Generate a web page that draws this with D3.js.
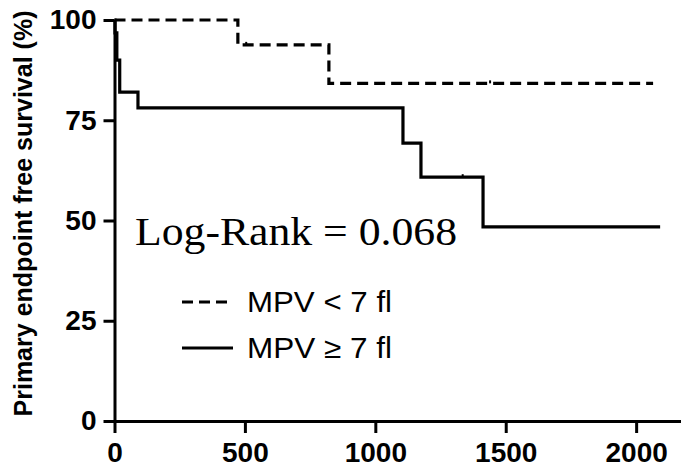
<!DOCTYPE html>
<html>
<head>
<meta charset="utf-8">
<script src="https://cdn.jsdelivr.net/npm/d3@7"></script>
<style>
  html, body { margin: 0; padding: 0; background: #fff; }
  svg { display: block; }
  .axis text { font-family: "Liberation Sans", Arial, sans-serif; font-weight: bold; font-size: 28px; fill: #000; }
  .axis path, .axis line { stroke: #000; stroke-width: 3; }
</style>
</head>
<body>
<svg id="chart" width="681" height="476"></svg>
<script>
// time (days) and survival (%)
const lowTime = [0, 473, 822, 2065];
const lowSurv = [100, 93.8, 84.2, 84.2];
const highTime = [0, 2, 9, 20, 90, 1106, 1175, 1413, 2092];
const highSurv = [100, 96.8, 90, 82, 78.1, 69.3, 60.8, 48.4, 48.4];
const lowCensor = [505, 1440];
const highCensor = [1335];
const xTicks = [0, 500, 1000, 1500, 2000];
const yTicks = [0, 25, 50, 75, 100];
const legendLabels = ["MPV < 7 fl", "MPV \u2265 7 fl"];
const yTitle = "Primary endpoint free survival (%)";
const noteText = "Log-Rank = 0.068";

const svg = d3.select("#chart");

let x = d3.scaleLinear().domain([0, 2172]).range([114.5, 681]);
let y = d3.scaleLinear().domain([0, 100]).range([421, 20]);

// axes
svg.append("g")
   .attr("class", "axis")
   .attr("transform", "translate(0,421)")
   .call(d3.axisBottom(x).tickValues(xTicks).tickSize(12).tickSizeOuter(0).tickPadding(9).tickFormat(d3.format("d")));

svg.append("g")
   .attr("class", "axis")
   .attr("transform", "translate(114.5,0)")
   .call(d3.axisLeft(y).tickValues(yTicks).tickSize(11).tickSizeOuter(0).tickPadding(7).tickFormat(d3.format("d")));

// survival curves
function toPoints(ts, ss) {
   return ts.map((t, i) => [t, ss[i]]);
}
let step = d3.line()
   .x((d) => x(d[0]))
   .y((d) => y(d[1]))
   .curve(d3.curveStepAfter);

svg.append("path")
   .attr("d", step(toPoints(lowTime, lowSurv)))
   .attr("fill", "none")
   .attr("stroke", "#000")
   .attr("stroke-width", 3.2)
   .attr("stroke-dasharray", "11,6");

svg.append("path")
   .attr("d", step(toPoints(highTime, highSurv)))
   .attr("fill", "none")
   .attr("stroke", "#000")
   .attr("stroke-width", 3.2);

// censor marks
function survAt(ts, ss, t) {
   let v = ss[0];
   ts.forEach((tt, i) => { if (tt <= t) v = ss[i]; });
   return v;
}
svg.selectAll(".censorLow")
   .data(lowCensor)
   .enter()
   .append("line")
   .attr("x1", (d) => x(d)).attr("x2", (d) => x(d))
   .attr("y1", (d) => y(survAt(lowTime, lowSurv, d)) - 3)
   .attr("y2", (d) => y(survAt(lowTime, lowSurv, d)))
   .attr("stroke", "#000").attr("stroke-width", 2);
svg.selectAll(".censorHigh")
   .data(highCensor)
   .enter()
   .append("line")
   .attr("x1", (d) => x(d)).attr("x2", (d) => x(d))
   .attr("y1", (d) => y(survAt(highTime, highSurv, d)) - 3)
   .attr("y2", (d) => y(survAt(highTime, highSurv, d)))
   .attr("stroke", "#000").attr("stroke-width", 2);

// y title
svg.append("text")
   .attr("transform", "translate(32,213.5) rotate(-90)")
   .attr("text-anchor", "middle")
   .attr("font-family", "Liberation Sans, Arial, sans-serif")
   .attr("font-weight", "bold")
   .attr("font-size", 25)
   .attr("textLength", 406)
   .attr("lengthAdjust", "spacingAndGlyphs")
   .text(yTitle);

// log-rank note
svg.append("text")
   .attr("x", 135)
   .attr("y", 245)
   .attr("font-family", "Liberation Serif, DejaVu Serif, serif")
   .attr("font-size", 40)
   .attr("textLength", 322)
   .attr("lengthAdjust", "spacingAndGlyphs")
   .text(noteText);

// legend
let legend = svg.selectAll(".legendItem")
   .data(legendLabels)
   .enter()
   .append("g")
   .attr("transform", (d, i) => "translate(0," + (i * 46) + ")");

legend.append("line")
   .attr("x1", 182).attr("x2", 233)
   .attr("y1", 302).attr("y2", 302)
   .attr("stroke", "#000")
   .attr("stroke-width", 3.2)
   .attr("stroke-dasharray", (d, i) => i === 0 ? "11,6" : null);

legend.append("text")
   .attr("x", 247)
   .attr("y", 312)
   .attr("font-family", "Liberation Sans, Arial, sans-serif")
   .attr("font-size", 29)
   .attr("textLength", 145)
   .attr("lengthAdjust", "spacingAndGlyphs")
   .text((d) => d);
</script>
</body>
</html>
